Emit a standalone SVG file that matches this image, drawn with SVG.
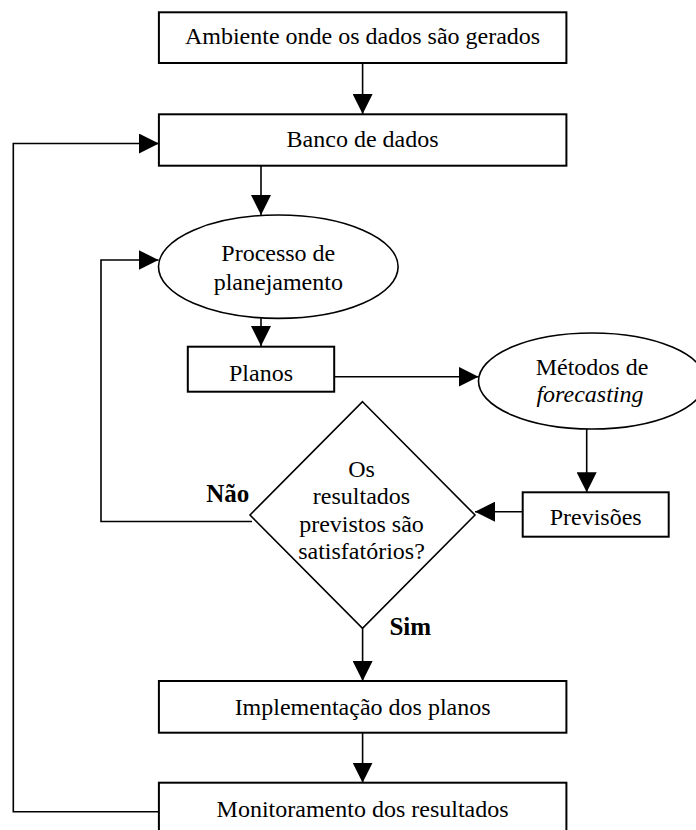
<svg xmlns="http://www.w3.org/2000/svg" width="696" height="830" viewBox="0 0 696 830">
<style>
.box{fill:#fff;stroke:#000;stroke-width:2}
.shape{fill:#fff;stroke:#000;stroke-width:1.6}
.ln{fill:none;stroke:#000;stroke-width:1.6}
text{font-family:"Liberation Serif","Times New Roman",serif;font-size:24px;fill:#000;text-anchor:middle}
.b{font-weight:bold;font-size:25px}
.i{font-style:italic}
</style>
<defs>
<marker id="ah" viewBox="0 0 20 20" refX="20" refY="10" markerWidth="20" markerHeight="20" markerUnits="userSpaceOnUse" orient="auto">
<path d="M0,0 L20,10 L0,20 Z" fill="#000"/>
</marker>
</defs>
<rect width="696" height="830" fill="#fff"/>
<g id="connectors">
<line class="ln" x1="362.6" y1="63" x2="362.6" y2="114" marker-end="url(#ah)"/>
<line class="ln" x1="261" y1="165.7" x2="261" y2="215" marker-end="url(#ah)"/>
<line class="ln" x1="261" y1="318.3" x2="261" y2="346" marker-end="url(#ah)"/>
<line class="ln" x1="334" y1="376.7" x2="478.5" y2="376.7" marker-end="url(#ah)"/>
<line class="ln" x1="586.7" y1="429" x2="586.7" y2="492.3" marker-end="url(#ah)"/>
<line class="ln" x1="522.7" y1="511.7" x2="475" y2="511.7" marker-end="url(#ah)"/>
<polyline class="ln" points="252,521.5 101,521.5 101,260 158.5,260" marker-end="url(#ah)"/>
<line class="ln" x1="362.6" y1="628.3" x2="362.6" y2="681" marker-end="url(#ah)"/>
<line class="ln" x1="362.6" y1="732.7" x2="362.6" y2="782.7" marker-end="url(#ah)"/>
<polyline class="ln" points="158.9,811.7 13.3,811.7 13.3,143.5 158.9,143.5" marker-end="url(#ah)"/>
</g>
<g id="ambiente">
<rect class="box" x="158.9" y="12.3" width="407.5" height="50.7"/>
<text x="362.6" y="44.3">Ambiente onde os dados são gerados</text>
</g>
<g id="banco">
<rect class="box" x="158.9" y="114.3" width="407.5" height="51.4"/>
<text x="362.6" y="146.7">Banco de dados</text>
</g>
<g id="processo">
<ellipse class="shape" cx="278.3" cy="266.7" rx="119.8" ry="51.7"/>
<text x="278.3" y="261">Processo de</text>
<text x="278.3" y="290">planejamento</text>
</g>
<g id="planos">
<rect class="box" x="187.8" y="346.7" width="146.4" height="45"/>
<text x="261" y="380.5">Planos</text>
</g>
<g id="metodos">
<ellipse class="shape" cx="592" cy="381" rx="113.5" ry="48"/>
<text x="592" y="375">Métodos de</text>
<text x="590" y="401.7" class="i">forecasting</text>
</g>
<g id="previsoes">
<rect class="box" x="522.7" y="492.3" width="146" height="44.4"/>
<text x="595.7" y="525">Previsões</text>
</g>
<g id="decisao">
<polygon class="shape" points="362.5,401.7 475,515 362.5,628.3 250,515"/>
<text x="361.5" y="476.7">Os</text>
<text x="361.5" y="504">resultados</text>
<text x="361.5" y="531.7">previstos são</text>
<text x="361.5" y="558.5">satisfatórios?</text>
</g>
<g id="labels">
<text class="b" x="227.8" y="501.7">Não</text>
<text class="b" x="410.3" y="635">Sim</text>
</g>
<g id="implementacao">
<rect class="box" x="158.9" y="681" width="407.5" height="51.7"/>
<text x="362.6" y="715">Implementação dos planos</text>
</g>
<g id="monitoramento">
<rect class="box" x="158.9" y="782.7" width="407.5" height="51.4"/>
<text x="362.6" y="816.7">Monitoramento dos resultados</text>
</g>
</svg>
